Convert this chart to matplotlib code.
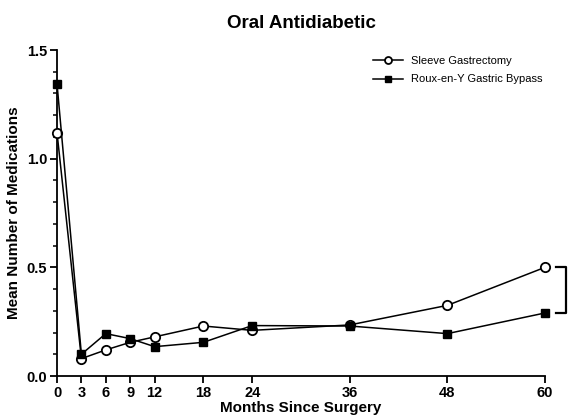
import matplotlib
matplotlib.use("Agg")
import matplotlib.pyplot as plt
from matplotlib.ticker import MultipleLocator

plt.rcParams['font.family'] = ['Liberation Sans', 'DejaVu Sans']

months = [0, 3, 6, 9, 12, 18, 24, 36, 48, 60]
sleeve = [1.12, 0.08, 0.12, 0.155, 0.18, 0.23, 0.21, 0.235, 0.325, 0.50]
bypass = [1.345, 0.10, 0.195, 0.172, 0.135, 0.155, 0.232, 0.23, 0.195, 0.29]
y_ticks = [0.0, 0.5, 1.0, 1.5]

fig = plt.figure(figsize=(5.69, 4.15), dpi=100)
ax = fig.add_axes([57 / 569, 1 - 376 / 415, (545 - 57) / 569, (376 - 50) / 415])

ax.plot(months, sleeve, color='black', linewidth=1.1, marker='o', markersize=6.7,
        markerfacecolor='white', markeredgewidth=1.3, label='Sleeve Gastrectomy', clip_on=False, zorder=3)
ax.plot(months, bypass, color='black', linewidth=1.1, marker='s', markersize=6.2,
        markerfacecolor='black', label='Roux-en-Y Gastric Bypass', clip_on=False, zorder=3)

# significance bracket between the two 60-month values
bx0, bx1 = 61.3, 62.6
ax.plot([bx0, bx1, bx1, bx0], [sleeve[-1], sleeve[-1], bypass[-1], bypass[-1]],
        color='black', linewidth=1.6, clip_on=False)

ax.set_xlim(0, 60)
ax.set_ylim(0, 1.5)
ax.set_xticks(months)
ax.set_yticks(y_ticks)
ax.set_yticklabels(['0.0', '0.5', '1.0', '1.5'])
ax.yaxis.set_minor_locator(MultipleLocator(0.1))

for side in ['top', 'right']:
    ax.spines[side].set_visible(False)
for side in ['left', 'bottom']:
    ax.spines[side].set_linewidth(1.3)
ax.tick_params(axis='both', which='major', labelsize=10.5, width=1.3, length=5, pad=2)
ax.tick_params(axis='y', which='minor', width=1.1, length=3)
for lbl in ax.get_xticklabels() + ax.get_yticklabels():
    lbl.set_fontweight('bold')

ax.set_xlabel('Months Since Surgery', fontsize=11, fontweight='bold', labelpad=1)
ax.set_ylabel('Mean Number of Medications', fontsize=11, fontweight='bold', labelpad=4)
ax.set_title('Oral Antidiabetic', fontsize=13.5, fontweight='bold', pad=16)

ax.legend(loc='upper right', bbox_to_anchor=(1.015, 1.012), frameon=False, fontsize=8,
          handlelength=2.7, labelspacing=0.75, handletextpad=0.7, markerscale=0.75)

fig.savefig('out.png', dpi=100)
